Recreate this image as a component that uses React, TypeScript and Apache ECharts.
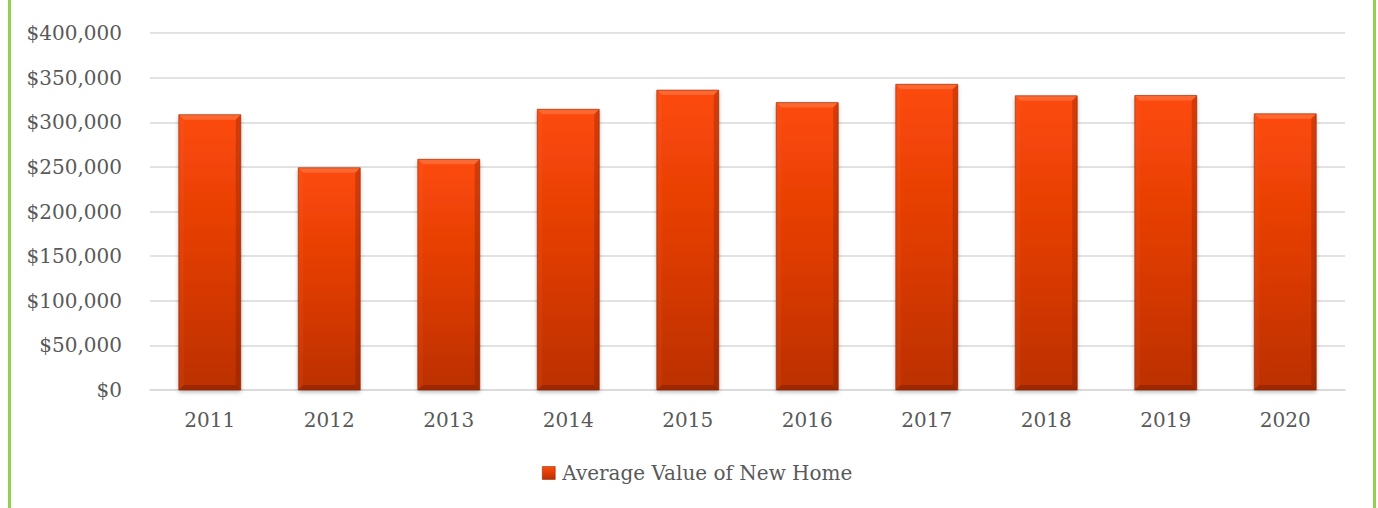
import React, { useEffect, useRef } from "react";
import * as echarts from "echarts";

const categories = ["2011", "2012", "2013", "2014", "2015", "2016", "2017", "2018", "2019", "2020"];
const values = [308500, 249000, 258500, 314500, 336000, 322000, 342500, 329700, 330000, 309500];
const seriesName = "Average Value of New Home";
const yMin = 0;
const yMax = 400000;
const yInterval = 50000;

const FONT = "DejaVu Serif";
const TEXT = "#595959";

const barGradient = new echarts.graphic.LinearGradient(0, 0, 0, 1, [
  { offset: 0, color: "#fb4a0c" },
  { offset: 0.5, color: "#e03c06" },
  { offset: 1, color: "#b82f04" },
]);

export default function App() {
  const ref = useRef<HTMLDivElement>(null);
  useEffect(() => {
    if (!ref.current) return;
    const chart = echarts.init(ref.current, null, { renderer: "svg" });
    const BW = 62;
    const BV = 5;
    const renderItem = (params: any, api: any) => {
      const idx = api.value(0);
      const val = api.value(1);
      const top = api.coord([idx, val]);
      const base = api.coord([idx, 0]);
      const x0 = top[0] - BW / 2;
      const x1 = top[0] + BW / 2;
      const y0 = top[1];
      const y1 = base[1];
      const b = Math.min(BV, (y1 - y0) / 2);
      return {
        type: "group",
        children: [
          {
            type: "rect",
            shape: { x: x0, y: y0, width: BW, height: y1 - y0 },
            style: {
              fill: new echarts.graphic.LinearGradient(0, 0, 0, 1, [
                { offset: 0, color: "#fd4a08" },
                { offset: 0.5, color: "#e03c05" },
                { offset: 1, color: "#bb3004" },
              ]),
              shadowBlur: 4,
              shadowOffsetY: 2,
              shadowColor: "rgba(0,0,0,0.3)",
            },
          },
          {
            type: "polygon",
            shape: { points: [[x0, y0], [x1, y0], [x1 - b, y0 + b], [x0 + b, y0 + b]] },
            style: { fill: "rgba(255,140,90,0.45)" },
          },
          {
            type: "polygon",
            shape: { points: [[x0, y0], [x0 + b, y0 + b], [x0 + b, y1 - b], [x0, y1]] },
            style: { fill: "rgba(255,120,70,0.10)" },
          },
          {
            type: "polygon",
            shape: { points: [[x1, y0], [x1, y1], [x1 - b, y1 - b], [x1 - b, y0 + b]] },
            style: { fill: "rgba(90,20,0,0.25)" },
          },
          {
            type: "polygon",
            shape: { points: [[x0, y1], [x1, y1], [x1 - b, y1 - b], [x0 + b, y1 - b]] },
            style: { fill: "rgba(80,15,0,0.28)" },
          },
          {
            type: "rect",
            shape: { x: x0, y: y0, width: BW, height: y1 - y0 },
            style: { fill: "none", stroke: "rgba(140,35,0,0.55)", lineWidth: 1 },
          },
        ],
      };
    };

    chart.setOption({
      animation: false,
      backgroundColor: "#ffffff",
      grid: { left: 150, right: 33, top: 33, bottom: 118, containLabel: false },
      xAxis: {
        type: "category",
        data: categories,
        axisTick: { show: false },
        axisLine: { show: true, lineStyle: { color: "#d9d9d9", width: 1.5 } },
        axisLabel: { color: TEXT, fontFamily: FONT, fontSize: 20, margin: 20 },
      },
      yAxis: {
        type: "value",
        min: yMin,
        max: yMax,
        interval: yInterval,
        axisLine: { show: false },
        axisTick: { show: false },
        splitLine: { lineStyle: { color: "#d9d9d9", width: 1.5 } },
        axisLabel: {
          color: TEXT,
          fontFamily: FONT,
          fontSize: 20,
          margin: 28,
          formatter: (v: number) => "$" + v.toLocaleString("en-US"),
        },
      },
      legend: {
        left: 537,
        top: 458,
        itemWidth: 13,
        itemHeight: 13,
        itemGap: 10,
        textStyle: { color: TEXT, fontFamily: FONT, fontSize: 20, padding: [0, 0, 0, 2] },
        data: [{ name: seriesName, icon: "rect", itemStyle: { color: barGradient, borderColor: "#8c2300", borderWidth: 0.5 } }],
      },
      graphic: [
        { type: "rect", left: 8, top: 0, shape: { width: 3, height: 508 }, style: { fill: "#92d050" } },
        { type: "rect", left: 1373, top: 0, shape: { width: 3, height: 508 }, style: { fill: "#92d050" } },
      ],
      series: [
        {
          name: seriesName,
          type: "custom",
          renderItem,
          itemStyle: { color: barGradient },
          encode: { x: 0, y: 1 },
          data: values.map((v, i) => [i, v]),
        },
      ],
    });
    return () => chart.dispose();
  }, []);
  return (
    <div
      ref={ref}
      style={{ position: "absolute", left: 0, top: 0, width: 1378, height: 508 }}
    />
  );
}
